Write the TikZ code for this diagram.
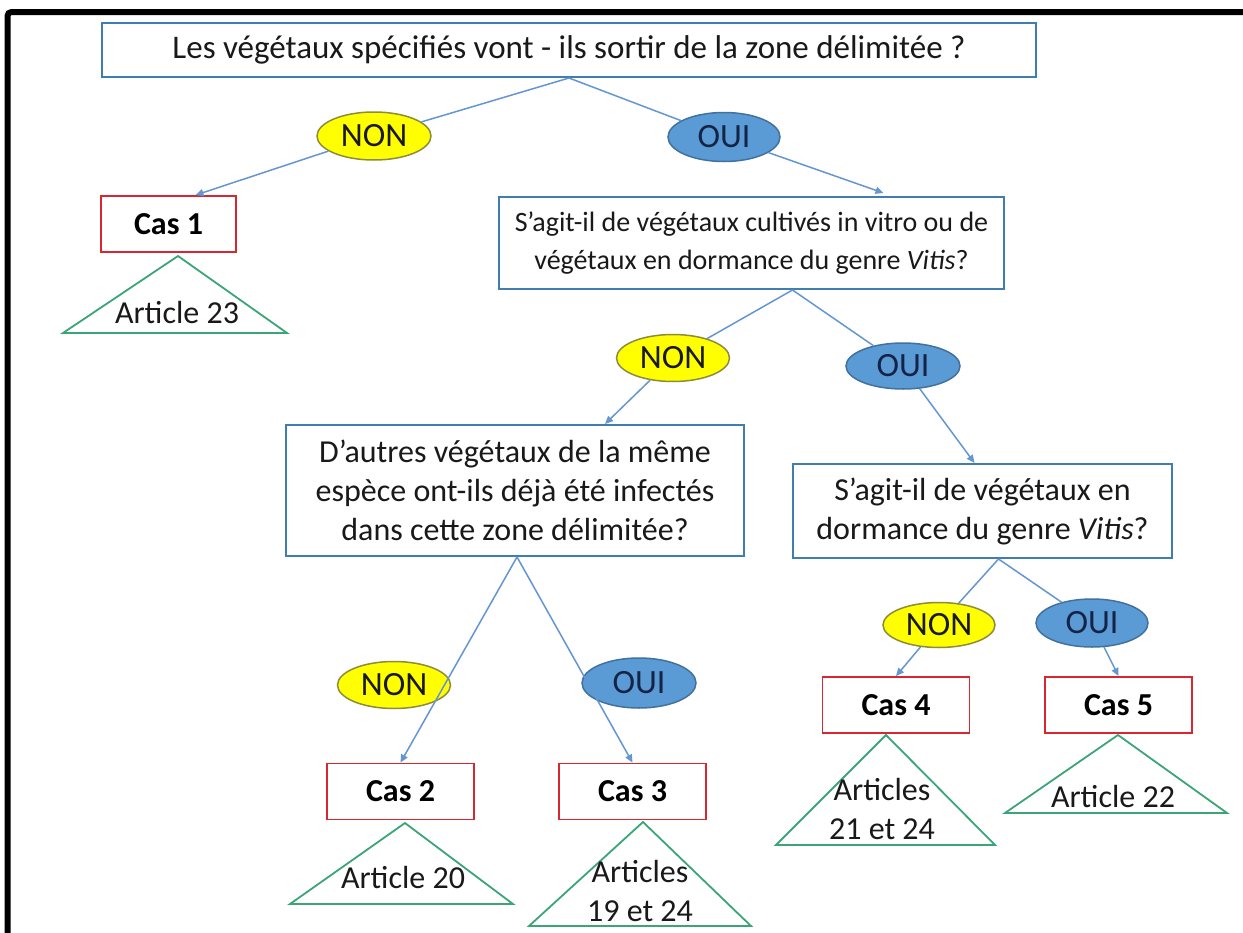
\documentclass[tikz,border=0pt]{standalone}
\usepackage{fontspec}
\setmainfont{Carlito}
\usetikzlibrary{arrows.meta,shapes.geometric,calc}
\definecolor{qblue}{RGB}{65,125,175}
\definecolor{lineblue}{RGB}{100,150,210}
\definecolor{casred}{RGB}{215,40,50}
\definecolor{trigreen}{RGB}{60,165,120}
\definecolor{nonfill}{RGB}{255,255,0}
\definecolor{nonborder}{RGB}{140,140,60}
\definecolor{ouifill}{RGB}{91,155,213}
\definecolor{ouiborder}{RGB}{65,113,156}
\definecolor{ouitext}{RGB}{20,35,70}
\definecolor{txt}{RGB}{25,25,25}
\begin{document}
\begin{tikzpicture}[x=1bp,y=-1bp,
  bigfont/.style={font=\fontsize{32bp}{39bp}\selectfont},
  question/.style={draw=qblue, line width=2bp, fill=white, align=center, inner sep=0pt, text=txt, bigfont},
  casbox/.style={draw=casred, line width=1.8bp, fill=white, inner sep=0pt, minimum width=147bp, minimum height=56bp, font=\fontsize{32bp}{39bp}\selectfont\bfseries, text=black},
  nonell/.style={ellipse, draw=nonborder, line width=1.5bp, fill=nonfill, inner sep=0pt, minimum width=113bp, minimum height=47bp, font=\fontsize{34bp}{40bp}\selectfont, text=txt},
  ouiell/.style={ellipse, draw=ouiborder, line width=1.5bp, fill=ouifill, inner sep=0pt, minimum width=113bp, minimum height=48bp, font=\fontsize{34bp}{40bp}\selectfont, text=ouitext},
  conn/.style={draw=lineblue, line width=1.5bp},
  arr/.style={conn, -{Triangle[length=8bp,width=7bp]}},
  tri/.style={draw=trigreen, line width=1.8bp, line join=miter},
  art/.style={align=center, inner sep=0pt, text=txt, bigfont}
]
\useasboundingbox (0,0) rectangle (1243,933);
\fill[white] (0,0) rectangle (1243,933);
% frame
\draw[line width=6bp, rounded corners=4bp] (7.5,950) -- (7.5,12) -- (1260,12);

% question boxes
\node[question, minimum width=934bp, minimum height=54bp, font=\fontsize{33bp}{40bp}\selectfont] (top) at (569,50)
  {Les végétaux spécifiés vont - ils sortir de la zone délimitée ?};
\node[question, minimum width=505bp, minimum height=92bp, font=\fontsize{28bp}{38bp}\selectfont] (q2) at (751.5,243)
  {S’agit-il de végétaux cultivés in vitro ou de\\végétaux en dormance du genre \textit{Vitis}?};
\node[question, minimum width=458bp, minimum height=131bp] (q3) at (515,490.5)
  {D’autres végétaux de la même\\espèce ont-ils déjà été infectés\\dans cette zone délimitée?};
\node[question, minimum width=379bp, minimum height=94bp] (q4) at (982.5,511)
  {S’agit-il de végétaux en\\dormance du genre \textit{Vitis}?};

% triangles
\draw[tri] (178,256) -- (287,333) -- (63,333) -- cycle;
\draw[tri] (405,823) -- (513,904) -- (290,904) -- cycle;
\draw[tri] (643,822) -- (751,926) -- (529,926) -- cycle;
\draw[tri] (886,735) -- (995,845) -- (776,845) -- cycle;
\draw[tri] (1118,735) -- (1227,813) -- (1005,813) -- cycle;

\node[art] (a1) at (177,313) {Article 23};
\node[art] (a2) at (403,877) {Article 20};
\node[art] (a3) at (640,891) {Articles\\19 et 24};
\node[art] (a4) at (882,809) {Articles\\21 et 24};
\node[art] (a5) at (1113,796) {Article 22};

% case boxes
\node[casbox, minimum width=135bp] (cas1) at (168.5,224) {Cas 1};
\node[casbox] (cas2) at (400.5,791.5) {Cas 2};
\node[casbox] (cas3) at (632.5,791.5) {Cas 3};
\node[casbox] (cas4) at (896,705) {Cas 4};
\node[casbox] (cas5) at (1118.5,705) {Cas 5};

% ellipses
\node[nonell, minimum width=114bp, minimum height=48bp] (non1) at (374,136) {NON};
\node[ouiell, minimum width=112bp, minimum height=49bp] (oui1) at (724,137) {OUI};
\node[nonell] (non2) at (673,358) {NON};
\node[ouiell, minimum width=114bp, minimum height=46bp] (oui2) at (903,366) {OUI};
\node[nonell] (non3) at (394,685) {NON};
\node[ouiell, minimum width=114bp, minimum height=50bp] (oui3) at (639,683) {OUI};
\node[nonell, minimum width=112bp, minimum height=45bp] (non4) at (939,625) {NON};
\node[ouiell, minimum width=112bp] (oui4) at (1092,623) {OUI};

% connectors level 1
\draw[conn] (top.south) -- (non1);
\draw[arr] (non1) -- ([xshift=27bp]cas1.north);
\draw[conn] (top.south) -- (oui1);
\draw[arr] (oui1) -- ([xshift=132bp,yshift=3bp]q2.north);
% level 2
\draw[conn] ([xshift=41bp]q2.south) -- (non2);
\draw[arr] (non2) -- ([xshift=90bp]q3.north);
\draw[conn] ([xshift=41bp]q2.south) -- (oui2);
\draw[arr] (oui2) -- ([xshift=-8bp]q4.north);
% level 3
\draw[arr] ([xshift=2bp]q3.south) -- (cas2.north);
\draw[arr] ([xshift=2bp]q3.south) -- (cas3.north);
% level 4
\draw[conn] ([xshift=16bp]q4.south) -- (non4);
\draw[arr] (non4) -- (cas4.north);
\draw[conn] ([xshift=16bp]q4.south) -- (oui4);
\draw[arr] (oui4) -- (cas5.north);
\end{tikzpicture}
\end{document}
